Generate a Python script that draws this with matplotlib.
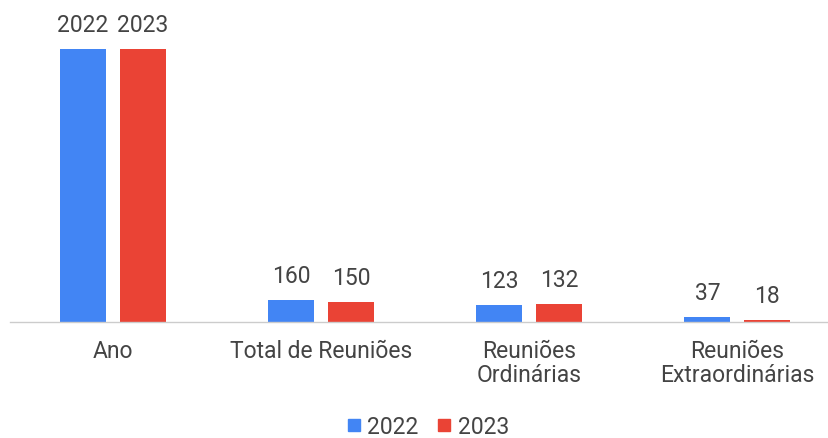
import numpy as np
import matplotlib.pyplot as plt
from matplotlib.lines import Line2D

plt.rcParams['font.family'] = ['Roboto', 'DejaVu Sans']

# Data
categorias = ['Ano', 'Total de Reuniões', 'Reuniões\nOrdinárias', 'Reuniões\nExtraordinárias']
valores_2022 = [2022, 160, 123, 37]
valores_2023 = [2023, 150, 132, 18]
series = ['2022', '2023']
cores = ['#4285F4', '#EA4335']
texto = '#444444'

fig = plt.figure(figsize=(8.29, 4.39), dpi=100)
ax = fig.add_axes([10 / 829, 1 - 323 / 439, 819 / 829, 323 / 439])

x = np.arange(len(categorias))
largura = 0.221
deslocamento = 0.144

for vals, cor, d in [(valores_2022, cores[0], -deslocamento), (valores_2023, cores[1], deslocamento)]:
    barras = ax.bar(x + d, vals, largura, color=cor, zorder=2)
    for b, v in zip(barras, vals):
        ax.annotate(str(v), (b.get_x() + b.get_width() / 2, b.get_height()),
                    xytext=(0, 13), textcoords='offset points',
                    ha='center', va='baseline', fontsize=16.5, color=texto)

ax.set_xlim(-0.495, 3.44)
ax.set_ylim(0, 2023 * 323 / 273)

ax.set_xticks(x)
ax.set_xticklabels(categorias, fontsize=16.5, color=texto, linespacing=1.1)
ax.tick_params(axis='x', length=0, pad=12)
ax.set_yticks([])

for s in ['top', 'left', 'right']:
    ax.spines[s].set_visible(False)
ax.spines['bottom'].set_color('#cccccc')
ax.spines['bottom'].set_linewidth(1)

handles = [Line2D([], [], marker='s', linestyle='none', markersize=8, color=c) for c in cores]
fig.legend(handles, series, loc='center', bbox_to_anchor=(0.516, 1 - 428 / 439),
           ncol=2, frameon=False, fontsize=16.5, labelcolor=texto,
           handlelength=0.6, handletextpad=0.3, columnspacing=0.8, borderpad=0)

fig.savefig('out.png', dpi=100)
